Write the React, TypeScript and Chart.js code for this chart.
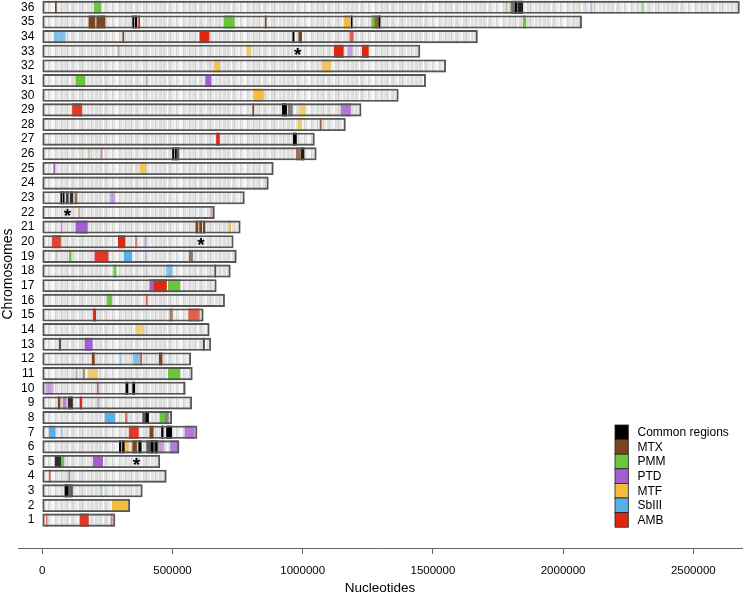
import React, { useEffect, useRef } from 'react';
import { Chart, registerables } from 'chart.js';

Chart.register(...registerables);

// ---------------- DATA ----------------
const CHROM_IDS = [1, 2, 3, 4, 5, 6, 7, 8, 9, 10, 11, 12, 13, 14, 15, 16, 17, 18, 19, 20, 21, 22, 23, 24, 25, 26, 27, 28, 29, 30, 31, 32, 33, 34, 35, 36];
// chromosome lengths, kb
const CHROM_LENGTHS_KB = [279, 336, 384, 476, 451, 525, 594, 497, 574, 549, 576, 570, 647, 641, 618, 700, 668, 722, 745, 733, 760, 661, 776, 868, 887, 1052, 1045, 1164, 1224, 1367, 1472, 1549, 1450, 1671, 2071, 2677];

const X_TICKS = [0, 500000, 1000000, 1500000, 2000000, 2500000];

const LEGEND_LABELS = ['Common regions', 'MTX', 'PMM', 'PTD', 'MTF', 'SbIII', 'AMB'];
const LEGEND_COLORS = ['#000000', '#7a4520', '#6cc63a', '#a45ecf', '#f3bd3a', '#58b0e8', '#e0260f'];

// regions: [chromosome, start kb, end kb, intensity]
const REGIONS_COMMON = [
  [36, 1800, 1812, 0.5], [36, 1815, 1822, 1], [36, 1826, 1845, 0.85],
  [35, 347, 352, 1], [35, 357, 363, 1], [35, 1186, 1190, 1], [35, 1292, 1297, 1],
  [34, 962, 967, 1], [29, 922, 938, 1], [29, 945, 960, 0.45], [27, 964, 976, 1],
  [26, 500, 505, 1], [26, 510, 515, 1], [26, 517, 525, 0.6], [26, 995, 1005, 0.9],
  [23, 71, 75, 1], [23, 80, 84, 1], [23, 92, 100, 0.7], [23, 107, 117, 0.8],
  [13, 65, 70, 0.7], [13, 618, 623, 0.7], [10, 321, 329, 1], [10, 347, 355, 1],
  [9, 100, 116, 0.8], [8, 385, 395, 0.6], [8, 397, 408, 1], [8, 471, 484, 0.45],
  [7, 458, 464, 1], [7, 477, 497, 1], [6, 296, 302, 1], [6, 308, 315, 1], [6, 370, 380, 1],
  [6, 401, 445, 0.6], [6, 418, 425, 1], [6, 435, 440, 1], [5, 49, 72, 0.8], [3, 87, 100, 1], [3, 104, 116, 0.6],
];
const REGIONS_MTX = [
  [36, 50, 54, 1], [35, 179, 202, 1], [35, 209, 241, 1], [35, 856, 860, 1], [35, 1275, 1290, 0.8],
  [34, 309, 313, 1], [34, 985, 996, 1], [33, 290, 294, 0.4], [29, 808, 812, 1], [28, 1067, 1071, 0.8],
  [26, 975, 992, 0.7], [23, 125, 134, 0.7], [22, 139, 142, 0.4], [21, 590, 598, 1], [21, 604, 612, 1], [21, 618, 625, 1],
  [19, 564, 577, 0.7], [18, 662, 666, 1], [15, 490, 500, 0.6], [12, 192, 200, 1], [12, 449, 460, 1],
  [11, 130, 134, 0.4], [11, 158, 162, 0.6], [10, 211, 216, 0.6], [10, 543, 547, 0.6], [9, 61, 68, 1],
  [7, 413, 426, 1], [6, 347, 362, 1], [4, 102, 106, 0.6],
];
const REGIONS_PMM = [
  [36, 200, 225, 1], [36, 1780, 1786, 0.5], [36, 2303, 2307, 0.6], [35, 698, 737, 1], [35, 1265, 1275, 1],
  [35, 1847, 1857, 1], [31, 129, 164, 1], [26, 178, 182, 0.5], [19, 53, 57, 0.4], [19, 104, 110, 1],
  [18, 275, 283, 1], [17, 484, 529, 1], [16, 250, 266, 1], [11, 484, 529, 1], [8, 452, 471, 1], [5, 74, 83, 1],
];
const REGIONS_PTD = [
  [36, 2105, 2109, 0.4], [33, 1175, 1190, 0.5], [31, 399, 403, 0.4], [31, 627, 648, 1], [29, 1147, 1184, 0.8],
  [25, 44, 48, 1], [23, 260, 279, 0.5], [21, 72, 76, 0.5], [21, 129, 173, 1], [20, 394, 398, 0.5],
  [17, 413, 429, 1], [13, 164, 192, 1], [10, 14, 42, 0.5], [9, 80, 92, 0.7], [9, 213, 217, 0.5],
  [7, 548, 584, 0.8], [6, 449, 465, 0.5], [6, 493, 522, 0.8], [5, 196, 232, 1],
];
const REGIONS_MTF = [
  [35, 1160, 1181, 1], [33, 785, 800, 0.7], [32, 660, 682, 0.8], [32, 1076, 1107, 0.8], [30, 813, 849, 1],
  [29, 989, 1009, 0.7], [28, 983, 996, 0.7], [25, 375, 398, 0.8], [21, 718, 724, 1], [14, 360, 390, 0.6],
  [11, 177, 211, 0.7], [6, 321, 330, 1], [2, 269, 330, 1],
];
const REGIONS_SBIII = [
  [34, 45, 87, 0.7], [19, 314, 343, 1], [19, 396, 400, 0.5], [18, 477, 499, 0.7], [12, 299, 303, 0.5],
  [12, 349, 375, 0.7], [8, 241, 279, 1], [7, 27, 49, 1], [7, 72, 76, 0.5], [3, 226, 230, 0.5],
];
const REGIONS_AMB = [
  [35, 370, 374, 1], [34, 605, 640, 1], [34, 1181, 1194, 0.7], [33, 1121, 1156, 1], [33, 1229, 1252, 1],
  [29, 116, 151, 0.9], [27, 669, 680, 1], [26, 226, 230, 0.5], [22, 649, 653, 0.4], [20, 38, 70, 0.85],
  [20, 292, 317, 1], [20, 358, 362, 0.6], [19, 202, 253, 0.9], [17, 429, 477, 1], [16, 399, 403, 0.7],
  [15, 196, 205, 1], [15, 562, 603, 0.7], [12, 378, 381, 1], [9, 145, 151, 1], [8, 319, 326, 0.6],
  [7, 334, 369, 0.9], [4, 27, 31, 0.7], [1, 15, 19, 0.6], [1, 145, 177, 0.9], [1, 264, 268, 0.6],
];
const REGION_SETS = [REGIONS_COMMON, REGIONS_MTX, REGIONS_PMM, REGIONS_PTD, REGIONS_MTF, REGIONS_SBIII, REGIONS_AMB];

// asterisks: chromosome, position kb
const STAR_CHROMS = [33, 22, 20, 5];
const STAR_POS_KB = [981, 97, 609, 362];

// ---------------- STYLE ----------------
const FONT = "'Liberation Sans', Arial, Helvetica, sans-serif";
const STRIPES: [number, string][] = [
  [3, '#e3e3e3'], [1, '#cfcfcf'], [2, '#ececec'], [1, '#f8f8f8'], [2, '#dddddd'], [1, '#d4d4d4'],
  [3, '#e8e8e8'], [2, '#f5f5f5'], [1, '#d8d8d8'], [2, '#e1e1e1'], [1, '#cbcbcb'], [3, '#e6e6e6'],
  [1, '#fbfbfb'], [2, '#dfdfdf'], [2, '#eaeaea'], [1, '#d2d2d2'], [2, '#e4e4e4'], [1, '#f2f2f2'],
  [3, '#dcdcdc'], [1, '#efefef'], [2, '#d9d9d9'], [2, '#e7e7e7'], [1, '#fdfdfd'], [2, '#e0e0e0'],
  [1, '#d0d0d0'], [3, '#e9e9e9'], [2, '#f3f3f3'], [1, '#d6d6d6'], [2, '#e5e5e5'], [4, '#f6f6f6'],
  [1, '#d3d3d3'], [2, '#e2e2e2'], [3, '#ededed'], [1, '#cdcdcd'], [2, '#e6e6e6'],
];

function hexToRgba(hex: string, a: number) {
  const n = parseInt(hex.slice(1), 16);
  return `rgba(${(n >> 16) & 255},${(n >> 8) & 255},${n & 255},${a})`;
}

function makePattern(ctx: CanvasRenderingContext2D) {
  const w = STRIPES.reduce((s, p) => s + p[0], 0);
  const c = document.createElement('canvas');
  c.width = w; c.height = 4;
  const g = c.getContext('2d')!;
  let x = 0;
  for (const [sw, col] of STRIPES) { g.fillStyle = col; g.fillRect(x, 0, sw, 4); x += sw; }
  return ctx.createPattern(c, 'repeat');
}

const BAR_THICK = 12.4;

export default function App() {
  const ref = useRef<HTMLCanvasElement | null>(null);
  useEffect(() => {
    const canvas = ref.current!;
    const ctx = canvas.getContext('2d')!;
    const pattern = makePattern(ctx);
    const bodyData = CHROM_IDS.map((c, i) => ({ x: [0, CHROM_LENGTHS_KB[i] * 1000], y: c }));

    const regionDatasets = REGION_SETS.map((set, k) => ({
      type: 'bar' as const,
      label: LEGEND_LABELS[k],
      data: set.map((r) => ({ x: [r[1] * 1000, r[2] * 1000], y: r[0], s: r[3] })),
      backgroundColor: (c: any) => hexToRgba(LEGEND_COLORS[k], c.raw ? c.raw.s : 1),
      borderWidth: 0,
      barThickness: BAR_THICK,
      grouped: false,
      order: 10 + (7 - k),
    }));

    const starPlugin = {
      id: 'stars',
      afterDatasetsDraw(chart: any) {
        const { ctx: c, scales } = chart;
        c.save();
        c.fillStyle = '#000';
        c.font = `bold 19px ${FONT}`;
        c.textAlign = 'center';
        c.textBaseline = 'alphabetic';
        STAR_CHROMS.forEach((ch, i) => {
          const px = scales.x.getPixelForValue(STAR_POS_KB[i] * 1000);
          const py = scales.y.getPixelForValue(ch);
          c.fillText('*', px, py + 9.5);
        });
        c.restore();
      },
    };

    const legendPlugin = {
      id: 'customLegend',
      afterDraw(chart: any) {
        const c = chart.ctx;
        const x0 = 615, y0 = 425, bw = 13.3, bh = 14.6;
        c.save();
        LEGEND_LABELS.forEach((lab, i) => {
          const y = y0 + i * bh;
          c.fillStyle = LEGEND_COLORS[i];
          c.fillRect(x0, y, bw, bh);
          c.strokeStyle = '#222';
          c.lineWidth = 0.8;
          c.strokeRect(x0, y, bw, bh);
          c.fillStyle = '#000';
          c.font = `12px ${FONT}`;
          c.textAlign = 'left';
          c.textBaseline = 'middle';
          c.fillText(lab, 637.5, y + bh / 2 + 0.5);
        });
        c.restore();
      },
    };

    const chart = new Chart(ctx, {
      type: 'bar',
      data: {
        datasets: [
          {
            label: 'outline',
            data: bodyData,
            backgroundColor: 'rgba(0,0,0,0)',
            borderColor: '#555555',
            borderWidth: 1.2,
            borderSkipped: false,
            barThickness: BAR_THICK,
            grouped: false,
            order: 1,
          } as any,
          ...regionDatasets,
          {
            label: 'body',
            data: bodyData,
            backgroundColor: pattern,
            borderWidth: 0,
            barThickness: BAR_THICK,
            grouped: false,
            order: 50,
          } as any,
        ],
      },
      options: {
        indexAxis: 'y',
        animation: false,
        responsive: false,
        events: [],
        layout: { padding: { left: 0, right: 1, top: 0, bottom: 0 } },
        plugins: { legend: { display: false }, tooltip: { enabled: false } },
        scales: {
          x: {
            type: 'linear',
            position: 'bottom',
            min: -93300,
            max: 2687000,
            offset: false,
            beginAtZero: false,
            grid: { display: true, drawOnChartArea: false, drawTicks: true, tickLength: 6, color: '#666', lineWidth: 1 },
            border: { display: true, color: '#666', width: 1 },
            ticks: {
              font: { size: 11.5, family: FONT }, color: '#000', padding: 10, maxRotation: 0, autoSkip: false,
              callback: (v: any) => String(v),
            },
            afterBuildTicks: (s: any) => { s.ticks = X_TICKS.map((v) => ({ value: v })); },
            afterFit: (s: any) => { s.paddingLeft = 0; s.paddingRight = 0; },
            title: { display: true, text: 'Nucleotides', font: { size: 13.5, family: FONT }, color: '#000', padding: { top: -8, bottom: -2 } },
          },
          y: {
            type: 'linear',
            min: -0.903,
            max: 36.5,
            offset: false,
            grid: { display: false, drawTicks: false, tickLength: 0, offset: false },
            border: { display: false },
            ticks: {
              mirror: true, crossAlign: 'far', padding: 3, autoSkip: false,
              font: { size: 12, family: FONT }, color: '#000',
              callback: (v: any) => String(v),
            },
            afterBuildTicks: (s: any) => { s.ticks = CHROM_IDS.map((v) => ({ value: v })); },
            afterFit: (s: any) => { s.paddingTop = 0; s.paddingBottom = 0; },
            title: { display: true, text: 'Chromosomes', font: { size: 14, family: FONT }, color: '#000', padding: { top: 0, bottom: -4.8 } },
          },
        },
      } as any,
      plugins: [starPlugin, legendPlugin],
    });
    return () => chart.destroy();
  }, []);

  return (
    <div style={{ position: 'fixed', left: 0, top: 0, width: 743, height: 594, background: '#fff' }}>
      <canvas ref={ref} width={743} height={594} style={{ display: 'block', width: 743, height: 594 }} />
    </div>
  );
}
